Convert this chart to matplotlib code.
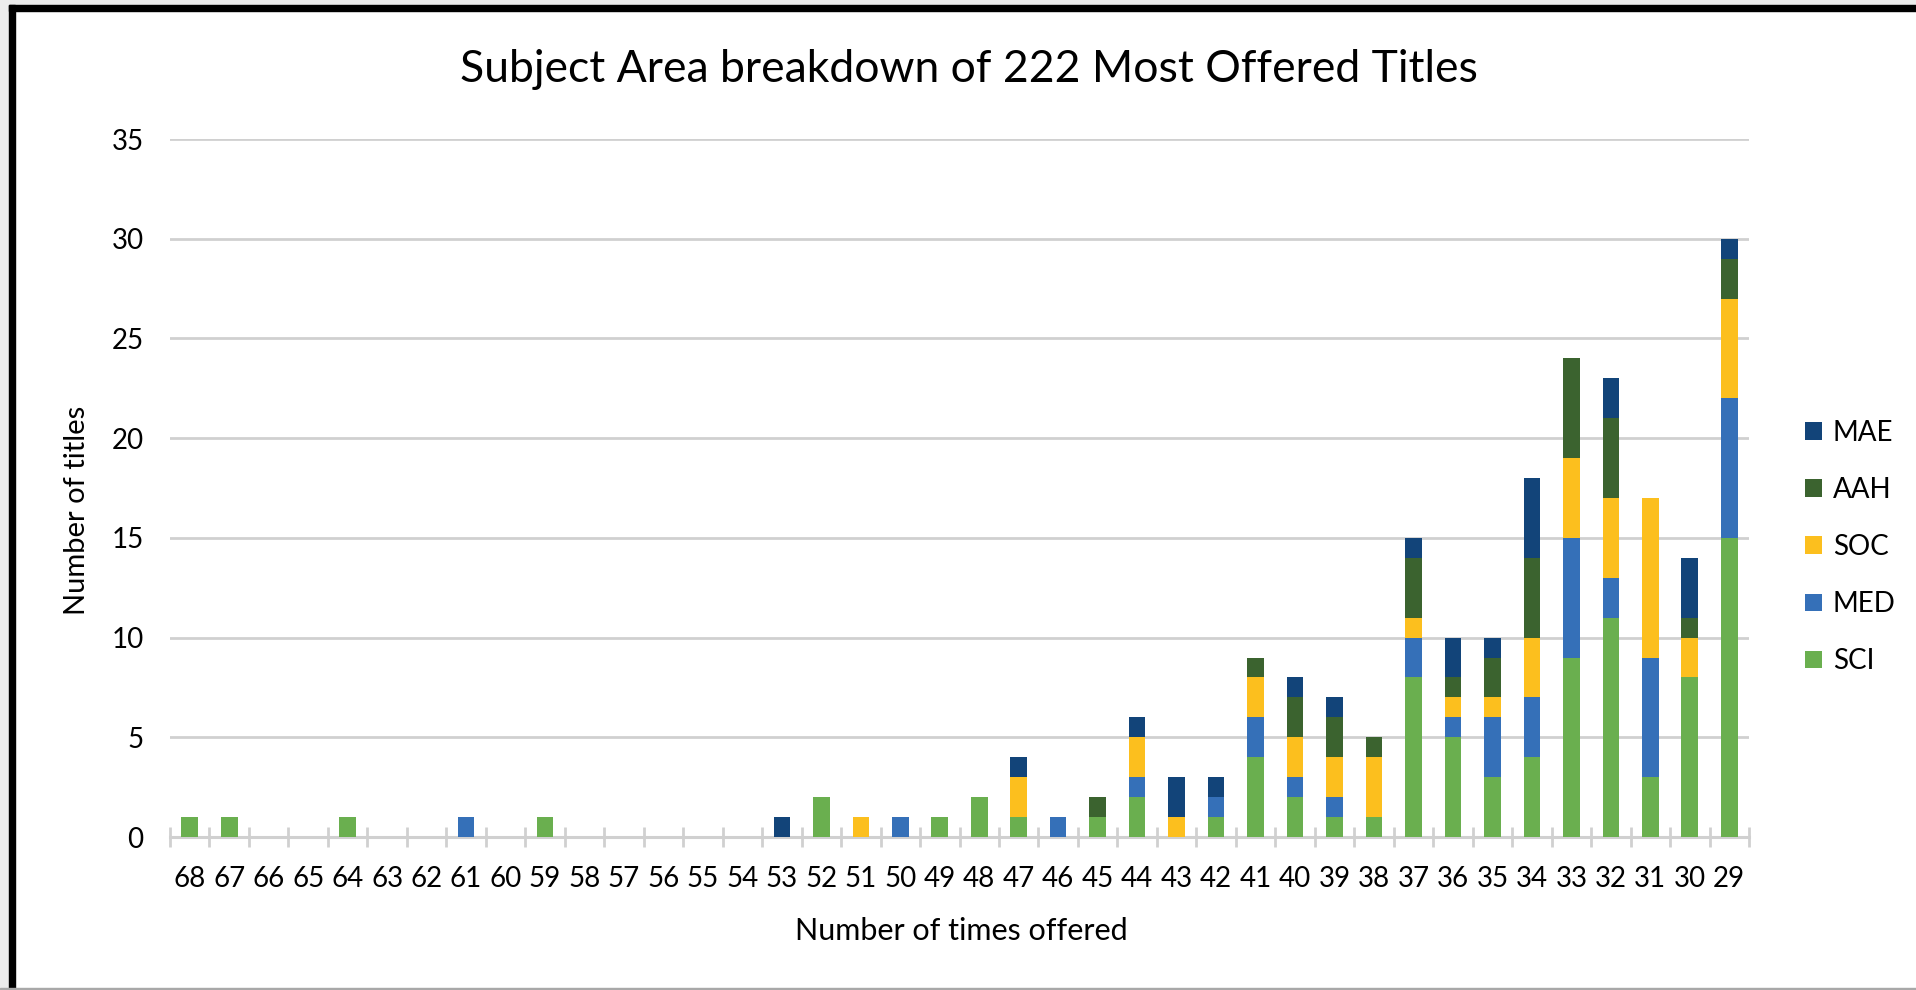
import matplotlib.pyplot as plt
from matplotlib.patches import Rectangle
import numpy as np

plt.rcParams['font.family'] = ['Lato', 'DejaVu Sans']

# number of times offered (x categories, left to right)
times_offered = [str(v) for v in range(68, 28, -1)]

# titles per subject area for each category
sci = [1, 1, 0, 0, 1, 0, 0, 0, 0, 1, 0, 0, 0, 0, 0,
       0, 2, 0, 0, 1, 2, 1, 0, 1, 2, 0, 1, 4, 2, 1, 1, 8, 5, 3, 4, 9, 11, 3, 8, 15]
med = [0, 0, 0, 0, 0, 0, 0, 1, 0, 0, 0, 0, 0, 0, 0,
       0, 0, 0, 1, 0, 0, 0, 1, 0, 1, 0, 1, 2, 1, 1, 0, 2, 1, 3, 3, 6, 2, 6, 0, 7]
soc = [0, 0, 0, 0, 0, 0, 0, 0, 0, 0, 0, 0, 0, 0, 0,
       0, 0, 1, 0, 0, 0, 2, 0, 0, 2, 1, 0, 2, 2, 2, 3, 1, 1, 1, 3, 4, 4, 8, 2, 5]
aah = [0, 0, 0, 0, 0, 0, 0, 0, 0, 0, 0, 0, 0, 0, 0,
       0, 0, 0, 0, 0, 0, 0, 0, 1, 0, 0, 0, 1, 2, 2, 1, 3, 1, 2, 4, 5, 4, 0, 1, 2]
mae = [0, 0, 0, 0, 0, 0, 0, 0, 0, 0, 0, 0, 0, 0, 0,
       1, 0, 0, 0, 0, 0, 1, 0, 0, 1, 2, 1, 0, 1, 1, 0, 1, 2, 1, 4, 0, 2, 0, 3, 1]

series = [('SCI', sci, '#6aaf4f'), ('MED', med, '#3570b8'), ('SOC', soc, '#fcbf1e'),
          ('AAH', aah, '#3b632f'), ('MAE', mae, '#124479')]

W, H = 1916, 990
fig = plt.figure(figsize=(W / 100, H / 100), dpi=100)
ax = fig.add_axes([170 / W, 1 - 837 / H, (1749 - 170) / W, (837 - 139) / H])

x = np.arange(len(times_offered))
bottom = np.zeros(len(x))
handles = []
for name, vals, col in series:
    b = ax.bar(x, vals, width=0.42, bottom=bottom, color=col, label=name, zorder=3, linewidth=0)
    handles.append(b)
    bottom += np.array(vals)

grid_col = '#d0d0d0'
ax.set_xlim(-0.5, len(x) - 0.5)
ax.set_ylim(0, 35)
ax.set_yticks(range(0, 36, 5))
ax.yaxis.grid(True, color=grid_col, linewidth=2, zorder=0)
ax.set_axisbelow(True)
for s in ['top', 'right', 'left']:
    ax.spines[s].set_visible(False)
ax.spines['bottom'].set_color(grid_col)
ax.spines['bottom'].set_linewidth(2.2)

ax.set_xticks(x)
ax.set_xticklabels(times_offered)
ax.set_xticks(np.arange(-0.5, len(x)), minor=True)
ax.tick_params(axis='x', which='major', length=0, pad=21, labelsize=20)
ax.tick_params(axis='x', which='minor', direction='inout', length=14, width=2, color=grid_col)
ax.tick_params(axis='y', length=0, pad=19, labelsize=20)

fig.text(969 / W, 1 - 70 / H, 'Subject Area breakdown of 222 Most Offered Titles',
         ha='center', va='center', fontsize=32)
fig.text(961 / W, 1 - 931 / H, 'Number of times offered', ha='center', va='center', fontsize=22)
fig.text(77 / W, 1 - 510 / H, 'Number of titles', ha='center', va='center',
         rotation=90, fontsize=21)

fig.legend(handles[::-1], [s[0] for s in series][::-1], loc='center left',
           bbox_to_anchor=(1805 / W, 1 - 547 / H), frameon=False, fontsize=20,
           borderpad=0, borderaxespad=0, handlelength=0.6, handleheight=0.6,
           handletextpad=0.4, labelspacing=1.12)

# picture frame
fig.patches.append(Rectangle((0, 0), 9 / W, 1, transform=fig.transFigure, color='#ececec', zorder=-1))
fig.patches.append(Rectangle((0, 1 - 5 / H), 1, 5 / H, transform=fig.transFigure, color='#ececec', zorder=-1))
fig.patches.append(Rectangle((9 / W, 0), 6 / W, 1 - 5 / H, transform=fig.transFigure, color='black'))
fig.patches.append(Rectangle((9 / W, 1 - 11 / H), 1, 6 / H, transform=fig.transFigure, color='black'))
fig.patches.append(Rectangle((0, 0), 1, 2 / H, transform=fig.transFigure, color='#a8a8a8'))

fig.savefig('out.png', dpi=100)
